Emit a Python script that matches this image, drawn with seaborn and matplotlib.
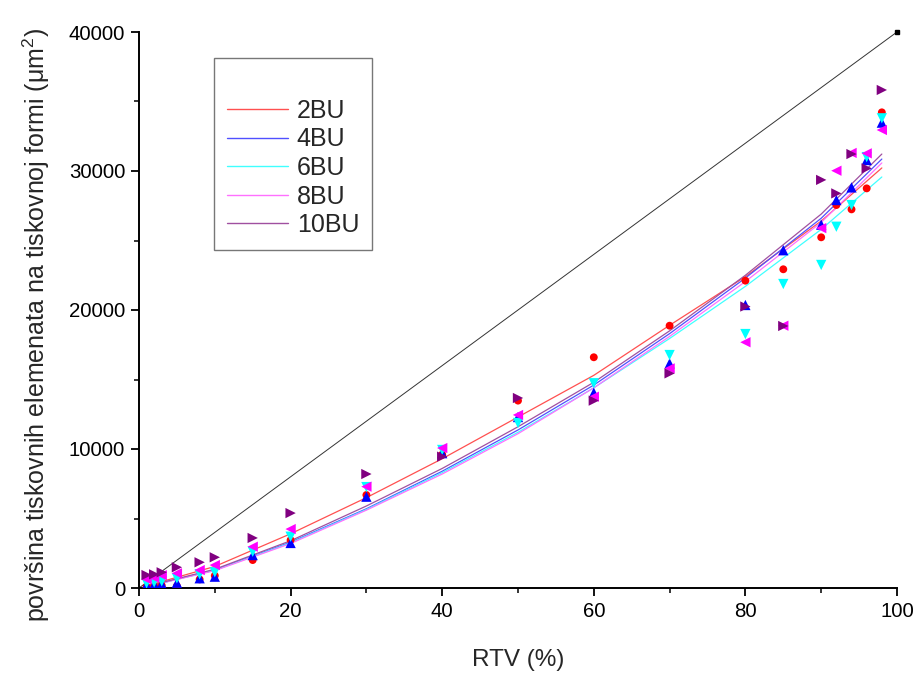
import numpy as np
import pandas as pd
import matplotlib
matplotlib.use("Agg")
import matplotlib.pyplot as plt
from matplotlib.lines import Line2D
from matplotlib.ticker import MultipleLocator
import seaborn as sns

# ---- data ----
series = ["2BU", "4BU", "6BU", "8BU", "10BU"]
rtv = [1, 2, 3, 5, 8, 10, 15, 20, 30, 40, 50, 60, 70, 80, 85, 90, 92, 94, 96, 98]
area_2bu = [100, 150, 180, 140, 620, 890, 2010, 3450, 6690, 9600, 13480, 16600, 18870, 22110, 22930, 25230, 27550, 27240, 28750, 34220]
area_4bu = [215, 250, 300, 380, 700, 815, 2370, 3240, 6570, 9700, 12300, 14050, 16160, 20360, 24300, 26140, 27910, 28820, 30790, 33480]
area_6bu = [335, 400, 480, 695, 985, 1130, 2610, 3690, 7260, 9930, 11870, 14730, 16760, 18270, 21870, 23240, 25990, 27550, 31000, 33790]
area_8bu = [625, 740, 920, 1060, 1290, 1650, 2970, 4240, 7290, 10070, 12450, 13760, 15800, 17680, 18870, 25890, 30020, 31300, 31270, 32950]
area_10bu = [935, 985, 1130, 1490, 1850, 2210, 3600, 5390, 8200, 9450, 13670, 13480, 15440, 20250, 18850, 29360, 28390, 31220, 30190, 35830]

# fitted curves
fit_x = [1, 10, 20, 30, 40, 50, 60, 70, 80, 90, 98]
fit_2bu = [150, 1550, 3900, 6500, 9300, 12300, 15300, 18900, 22400, 26400, 30220]
fit_4bu = [100, 1300, 3300, 5700, 8400, 11370, 14600, 18300, 22300, 26600, 30860]
fit_6bu = [100, 1280, 3250, 5650, 8300, 11200, 14400, 17950, 21700, 25800, 29570]
fit_8bu = [100, 1250, 3200, 5600, 8200, 11100, 14400, 18100, 22050, 26300, 30580]
fit_10bu = [120, 1350, 3400, 5900, 8600, 11600, 14800, 18500, 22500, 26900, 31220]

ref_x = [0, 100]
ref_y = [0, 40000]

colors = {"2BU": "#ff0000", "4BU": "#0000ff", "6BU": "#00ffff", "8BU": "#ff00ff", "10BU": "#800080"}
line_colors = {"2BU": "#ff5050", "4BU": "#5050ff", "6BU": "#40ffff", "8BU": "#ff70ff", "10BU": "#a050a0"}
markers = {"2BU": "o", "4BU": "^", "6BU": "v", "8BU": "<", "10BU": ">"}

points = pd.DataFrame({
    "RTV": rtv * 5,
    "area": area_2bu + area_4bu + area_6bu + area_8bu + area_10bu,
    "series": sum([[s] * len(rtv) for s in series], []),
})
fits = pd.DataFrame({
    "RTV": fit_x * 5,
    "area": fit_2bu + fit_4bu + fit_6bu + fit_8bu + fit_10bu,
    "series": sum([[s] * len(fit_x) for s in series], []),
})

sns.set_style("white")
plt.rcParams["font.family"] = ["Liberation Sans", "DejaVu Sans"]
plt.rcParams["mathtext.fontset"] = "custom"
plt.rcParams["mathtext.rm"] = "Liberation Sans"
plt.rcParams["mathtext.it"] = "Liberation Sans"

fig = plt.figure(figsize=(9.17, 6.75), dpi=100)
ax = fig.add_axes([139 / 917, 1 - 588 / 675, (897 - 139) / 917, (588 - 32) / 675])

ax.plot(ref_x, ref_y, color="#333333", lw=0.7)
ax.plot(ref_x[-1:], ref_y[-1:], marker="s", ms=2.5, color="black", ls="none", clip_on=False)

sns.lineplot(data=fits, x="RTV", y="area", hue="series", palette=line_colors,
             hue_order=series, lw=0.9, legend=False, ax=ax, sort=True)

for s in series:
    sub = points[points["series"] == s]
    sns.scatterplot(data=sub, x="RTV", y="area", color=colors[s], marker=markers[s],
                    s=55 if s != "2BU" else 32, edgecolor="none", linewidth=0, ax=ax,
                    legend=False, zorder=3)

ax.set_xlim(0, 100)
ax.set_ylim(0, 40000)
ax.xaxis.set_major_locator(MultipleLocator(20))
ax.xaxis.set_minor_locator(MultipleLocator(10))
ax.yaxis.set_major_locator(MultipleLocator(10000))
ax.yaxis.set_minor_locator(MultipleLocator(5000))
ax.tick_params(which="major", direction="out", length=6, width=1.3, labelsize=14.7,
               bottom=True, left=True, colors="black", pad=4)
ax.tick_params(which="minor", direction="out", length=3.5, width=1.3, bottom=True, left=True)

for side in ["top", "right"]:
    ax.spines[side].set_visible(False)
for side in ["left", "bottom"]:
    ax.spines[side].set_linewidth(1.4)
    ax.spines[side].set_color("black")

ax.set_xlabel("RTV (%)", fontsize=17.5, labelpad=20)
ax.set_ylabel(r"površina tiskovnih elemenata na tiskovnoj formi ($\mu$m$^{2}$)", fontsize=18)
ax.yaxis.set_label_coords((52 - 139) / 758, (588 - 325) / 556)

handles = [Line2D([], [], color="none", label=" ")]
for s in series:
    handles.append(Line2D([], [], color=line_colors[s], lw=1.0, label=s))
leg = fig.legend(handles=handles, loc="upper left", bbox_to_anchor=(214 / 917, 1 - 58 / 675),
                 bbox_transform=fig.transFigure, frameon=True, fancybox=False, shadow=False,
                 fontsize=18, handlelength=2.45, handletextpad=0.36, labelspacing=0.18,
                 borderpad=0.5, borderaxespad=0)
leg.get_frame().set_edgecolor("#555555")
leg.get_frame().set_linewidth(1.0)

fig.savefig("out.png", dpi=100)
